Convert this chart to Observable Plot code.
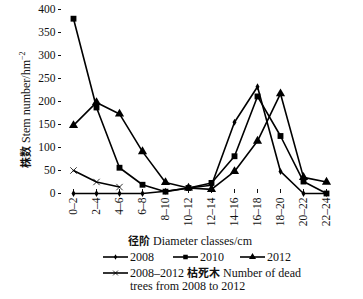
<!DOCTYPE html>
<html><head><meta charset="utf-8">
<script src="https://cdn.jsdelivr.net/npm/d3@7"></script>
<script src="https://cdn.jsdelivr.net/npm/@observablehq/plot@0.6"></script>
<style>
body{margin:0;background:#fff;}
#wrap{position:relative;width:363px;height:299px;font-family:"Liberation Serif","Noto Sans CJK SC",serif;color:#111;}
#wrap svg{display:block}
.lab{position:absolute;font-size:12px;white-space:nowrap;line-height:12.5px}
.cjk{font-family:"Noto Sans CJK SC";font-weight:bold;font-size:11px;line-height:0}
</style></head>
<body><div id="wrap"></div>
<script>
const classes = ["0–2","2–4","4–6","6–8","8–10","10–12","12–14","14–16","16–18","18–20","20–22","22–24"];
const y2008 = [0,0,0,0,5,12,18,155,232,48,0,0];
const y2010 = [380,187,56,19,4,12,23,81,211,125,26,0];
const y2012 = [148,198,173,91,24,12,9,48,114,217,35,25];
const deadClasses = ["0–2","2–4","4–6"];
const yDead = [50,25,14];
const yTicks = [0,50,100,150,200,250,300,350,400];

const series = [
  {name:"2008", cats:classes, vals:y2008, symbol:"diamond", r:2.1},
  {name:"2010", cats:classes, vals:y2010, symbol:"square", r:3.3},
  {name:"2012", cats:classes, vals:y2012, symbol:"triangle", r:3.4},
  {name:"dead", cats:deadClasses, vals:yDead, symbol:"times", r:3}
];
const marks = [];
for (const s of series) {
  const data = s.cats.map((c,i)=>({c, v:s.vals[i]}));
  marks.push(Plot.line(data,{x:"c",y:"v",stroke:"#000",strokeWidth:1.6}));
  if (s.symbol === "times")
    marks.push(Plot.dot(data,{x:"c",y:"v",symbol:"times",r:s.r,stroke:"#000",strokeWidth:0.8}));
  else
    marks.push(Plot.dot(data,{x:"c",y:"v",symbol:s.symbol,r:s.r,fill:"#000",stroke:"none"}));
}
const chart = Plot.plot({
  width:363, height:232,
  marginLeft:61, marginRight:33, marginTop:9, marginBottom:39,
  style:{fontFamily:"'Liberation Serif', serif", fontSize:"11.5px", color:"#111", background:"#fff"},
  x:{type:"point", domain:classes, padding:0.325, align:0.78},
  y:{domain:[0,400]},
  marks:[
    Plot.axisY({ticks:yTicks, tickSize:3, tickPadding:3, line:true, label:null}),
    Plot.axisX({tickSize:-4, tickPadding:8, tickRotate:-90, line:true, label:null}),
    ...marks
  ]
});
const wrap = document.getElementById("wrap");
wrap.appendChild(chart);

function addLab(html, left, top, cls){
  const d=document.createElement("div");
  d.className="lab"+(cls?" "+cls:"");
  d.style.left=left+"px"; d.style.top=top+"px";
  d.innerHTML=html; wrap.appendChild(d); return d;
}
// y label (rotated)
const yl = addLab('<span class="cjk">株数</span> Stem number/hm<sup style="font-size:8px;line-height:0">−2</sup>', 0, 0);
yl.style.transformOrigin="0 0";
yl.style.transform="rotate(-90deg)";
yl.style.left="20px"; yl.style.top="168px";
// x label
addLab('<span class="cjk">径阶</span> Diameter classes/cm', 128, 235);

// legend
const ns="http://www.w3.org/2000/svg";
const lsvg=document.createElementNS(ns,"svg");
lsvg.setAttribute("width",363); lsvg.setAttribute("height",60);
lsvg.style.position="absolute"; lsvg.style.left="0"; lsvg.style.top="240px";
wrap.appendChild(lsvg);
const symMap={diamond:d3.symbolDiamond,square:d3.symbolSquare,triangle:d3.symbolTriangle,times:d3.symbolTimes};
const legendItems=[
  {s:series[0], x:103, y:17, text:"2008"},
  {s:series[1], x:173, y:17, text:"2010"},
  {s:series[2], x:240, y:17, text:"2012"},
  {s:series[3], x:103, y:33, text:null}
];
for (const it of legendItems){
  const ln=document.createElementNS(ns,"line");
  ln.setAttribute("x1",it.x); ln.setAttribute("x2",it.x+25);
  ln.setAttribute("y1",it.y); ln.setAttribute("y2",it.y);
  ln.setAttribute("stroke","#000"); ln.setAttribute("stroke-width",1.6);
  lsvg.appendChild(ln);
  const p=document.createElementNS(ns,"path");
  p.setAttribute("d",d3.symbol(symMap[it.s.symbol], Math.PI*it.s.r*it.s.r*0.6)());
  p.setAttribute("transform",`translate(${it.x+12.5},${it.y})`);
  if(it.s.symbol==="times"){p.setAttribute("fill","none");p.setAttribute("stroke","#000");p.setAttribute("stroke-width",0.8);}
  else p.setAttribute("fill","#000");
  lsvg.appendChild(p);
  if(it.text) addLab(it.text, it.x+27, 240+it.y-6);
}
addLab('2008–2012 <span class="cjk">枯死木</span> Number of dead<br>trees from 2008 to 2012', 130, 267);
</script></body></html>
